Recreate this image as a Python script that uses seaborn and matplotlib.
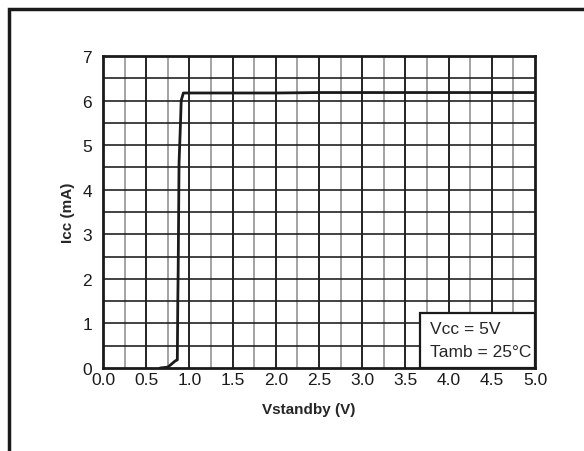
import numpy as np
import pandas as pd
import seaborn as sns
import matplotlib.pyplot as plt
from matplotlib.patches import Rectangle

# curve
vstandby = [0.0, 0.66, 0.75, 0.80, 0.83, 0.855, 0.86, 0.865, 0.87, 0.88, 0.895, 0.905, 0.93,
            1.5, 2.0, 2.5, 3.0, 4.0, 5.0]
icc = [0.0, 0.0, 0.02, 0.10, 0.15, 0.18, 0.18, 1.40, 2.2, 4.6, 5.4, 6.0, 6.17,
       6.17, 6.17, 6.18, 6.18, 6.18, 6.18]
xticks = [0.0, 0.5, 1.0, 1.5, 2.0, 2.5, 3.0, 3.5, 4.0, 4.5, 5.0]
yticks = [0, 1, 2, 3, 4, 5, 6, 7]
notes = ['Vcc = 5V', 'Tamb = 25\u00b0C']

df = pd.DataFrame({'Vstandby': vstandby, 'Icc': icc})
df = df[df['Vstandby'] >= 0.6]

sns.set_style('white')
plt.rcParams['font.family'] = ['Liberation Sans', 'DejaVu Sans']

fig = plt.figure(figsize=(5.84, 4.52), dpi=100)
ax = fig.add_axes([0.1764, 0.1836, 0.7397, 0.6903])

# grid: 0.25 V columns (gray minor, black major), 0.5 mA rows
for v in np.arange(0.25, 5.0, 0.25):
    major = abs(v / 0.5 - round(v / 0.5)) < 1e-6
    ax.axvline(v, color='#111111' if major else '#8a8a8a', lw=1.3 if major else 1.1, zorder=1)
for c in np.arange(0.5, 7.0, 0.5):
    ax.axhline(c, color='#222222', lw=1.2, zorder=1)

sns.lineplot(data=df, x='Vstandby', y='Icc', ax=ax, color='#1a1a1a', lw=2.0,
             estimator=None, sort=False, zorder=3)

ax.set_xlim(0, 5)
ax.set_ylim(0, 7)
ax.set_xticks(xticks)
ax.set_xticklabels([f'{t:.1f}' for t in xticks])
ax.set_yticks(yticks)
ax.set_xticks(np.arange(0.25, 5.0, 0.5), minor=True)
ax.set_yticks(np.arange(0.5, 7.0, 1.0), minor=True)
ax.tick_params(axis='both', which='both', direction='in', length=4, width=1.5,
               colors='#1a1a1a', labelsize=12.5)
ax.tick_params(axis='y', which='major', pad=8)
ax.tick_params(axis='x', which='major', length=0, pad=3)
for s in ax.spines.values():
    s.set_linewidth(2.0)
    s.set_color('#1a1a1a')

ax.set_xlabel('Vstandby (V)', fontsize=11, fontweight='bold')
ax.set_ylabel('Icc (mA)', fontsize=11, fontweight='bold')
ax.xaxis.set_label_coords(0.475, -0.109)
ax.yaxis.set_label_coords(-0.064, 0.5)

# note box in the lower right corner
ax.add_patch(Rectangle((3.67, 0.0), 1.33, 1.23, fc='white', ec='#1a1a1a', lw=1.6, zorder=5))
ax.text(3.78, 0.88, notes[0], fontsize=12.5, va='center', ha='left', zorder=6)
ax.text(3.78, 0.38, notes[1], fontsize=12.5, va='center', ha='left', zorder=6)

# outer frame around the figure (cut off right and bottom)
fig.add_artist(Rectangle((9 / 584, -0.1), 1.2, 1.1 - 10 / 452, transform=fig.transFigure,
                         fill=False, ec='#1a1a1a', lw=2.5))

fig.savefig('out.png', dpi=100)
